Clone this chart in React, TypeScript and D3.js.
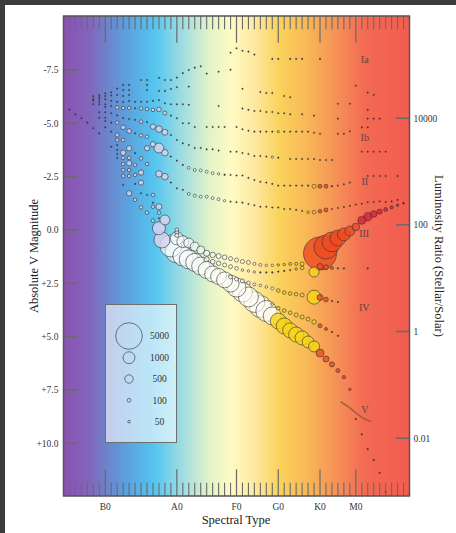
import React from 'react';
import * as d3 from 'd3';

const W = 456;
const H = 533;
const SUN_ABS_MAG = 4.76;

// spectral grid: integer index per minor tick, B0 = 0
const specMajorIdx = [0, 12, 22, 29, 36, 42];
const specMajorLabels = ['B0', 'A0', 'F0', 'G0', 'K0', 'M0'];
const specMinorRange = [-6, 50];
const magTicks = [-7.5, -5, -2.5, 0, 2.5, 5, 7.5, 10];
const lumTicks = [10000, 100, 1, 0.01];
const lumLabels = ['10000', '100', '1', '0.01'];
const legendValues = [5000, 1000, 500, 100, 50];

// [spectral index, absolute V magnitude, number of stars]
const oStars = [
  [-6, -5.64, 25], [-5, -5.42, 25], [-4, -5.24, 25], [-3, -5.03, 25], [-2, -4.77, 25], [-1, -4.53, 25],
];
const bCluster = [
  [-2, -6.27, 25], [-2, -6.14, 25], [-2, -6.06, 25], [-2, -5.89, 25],
  [-1, -6.33, 25], [-1, -6.23, 25], [-1, -6.14, 25], [-1, -6.01, 25], [-1, -5.89, 25], [-1, -5.52, 25], [-1, -5.26, 25],
  [0, -6.41, 25], [0, -6.28, 25], [0, -6.13, 25], [0, -5.89, 25], [0, -5.77, 25], [0, -5.52, 25], [0, -5.26, 25], [0, -5.11, 25], [0, -4.81, 25],
  [1, -6.45, 25], [1, -6.30, 25], [1, -6.06, 25], [1, -5.81, 25], [1, -5.47, 25], [1, -5.03, 25], [1, -4.61, 25], [1, -3.90, 25],
];
const bColumns = [
  [2, -6.63, 25], [2, -6.33, 25], [2, -6.01, 25], [2, -5.74, 90], [2, -5.37, 25], [2, -5.03, 90], [2, -4.45, 110], [2, -4.22, 90], [2, -3.98, 25], [2, -3.75, 25], [2, -3.56, 25], [2, -3.38, 25],
  [3, -6.80, 25], [3, -6.56, 25], [3, -6.28, 25], [3, -6.00, 25], [3, -5.72, 90], [3, -5.25, 25], [3, -4.81, 150], [3, -4.22, 90], [3, -3.62, 200], [3, -3.38, 90], [3, -3.09, 90], [3, -2.81, 90], [3, -2.53, 90], [3, -2.11, 25],
  [4, -6.80, 25], [4, -6.56, 25], [4, -6.33, 25], [4, -6.05, 25], [4, -5.72, 90], [4, -5.20, 25], [4, -4.64, 150], [4, -3.83, 200], [4, -3.38, 90], [4, -3.13, 200], [4, -2.81, 90], [4, -2.53, 90], [4, -1.72, 200],
  [5, -6.01, 25], [5, -5.70, 25], [5, -5.16, 25], [5, -4.53, 25], [5, -3.60, 25], [5, -3.05, 90], [5, -2.58, 90], [5, -2.16, 25], [5, -1.41, 90],
  [6, -7.03, 25], [6, -6.01, 25], [6, -5.70, 90], [6, -5.08, 90], [6, -4.43, 90], [6, -3.35, 90], [6, -2.69, 200], [6, -2.22, 180], [6, -1.72, 25], [6, -1.06, 90],
  [7, -7.03, 25], [7, -6.80, 25], [7, -6.56, 25], [7, -6.01, 25], [7, -5.67, 90], [7, -5.06, 25], [7, -4.37, 90], [7, -3.83, 200], [7, -3.09, 90], [7, -1.64, 25], [7, -0.81, 90],
  [8, -6.05, 25], [8, -5.63, 90], [8, -4.84, 200], [8, -4.02, 200], [8, -1.64, 90], [8, -1.28, 25], [8, -1.09, 90], [8, -0.44, 90],
  [9, -7.13, 25], [9, -6.52, 25], [9, -6.09, 25], [9, -5.65, 150], [9, -4.73, 300], [9, -3.84, 700], [9, -2.63, 300], [9, -1.09, 250], [9, -0.81, 90], [9, -0.55, 25],
  [10, -7.03, 25], [10, -6.52, 25], [10, -5.94, 25], [10, -5.48, 110], [10, -4.58, 250], [10, -3.62, 300], [10, -2.50, 300], [10, -0.47, 700],
  [11, -7.03, 25], [11, -6.61, 25], [11, -5.89, 25], [11, -5.36, 25], [11, -4.45, 25], [11, -3.44, 25], [11, -2.22, 25],
  [12, -7.14, 25], [12, -6.69, 25], [12, -5.89, 25], [12, -5.24, 25], [12, -4.22, 25], [12, -3.25, 25], [12, -1.95, 25], [12, 0.0, 110], [12, 0.13, 110], [12, 0.25, 110],
  [13, -7.35, 25], [13, -5.89, 25], [13, -5.00, 25], [13, -4.06, 25], [13, -3.05, 25], [13, -1.88, 25],
];
const classIa = [
  [14, -7.50, 25], [15, -7.61, 25], [16, -7.67, 25], [17, -7.33, 25], [19, -7.42, 25], [21, -7.51, 25],
  [21, -8.31, 25], [22, -8.52, 25], [23, -8.40, 25], [24, -8.36, 25], [25, -8.22, 25],
  [28, -8.02, 25], [29, -8.02, 25], [31, -8.02, 25], [32, -8.02, 25], [33, -8.02, 25], [36, -8.02, 25],
  [42, -6.76, 25], [44, -6.44, 25], [45, -6.33, 25],
];
const classIab = [
  [14, -6.72, 25], [23, -6.62, 25], [26, -6.47, 25], [27, -6.42, 25], [28, -6.42, 25], [30, -6.28, 25], [31, -6.22, 25], [39, -5.92, 25], [41, -5.92, 25], [44, -5.63, 25],
  [14, -5.87, 25], [19, -5.81, 25], [23, -5.69, 25], [24, -5.63, 25], [25, -5.58, 25], [26, -5.58, 25], [27, -5.53, 25], [28, -5.53, 25], [29, -5.47, 25], [30, -5.47, 25],
  [31, -5.42, 25], [33, -5.42, 25], [35, -5.36, 25], [39, -5.22, 25], [44, -5.22, 25], [45, -5.22, 25], [46, -5.22, 25],
];
const classIb = [
  [14, -5.00, 25], [15, -4.83, 25], [17, -4.83, 25], [18, -4.83, 25], [19, -4.83, 25], [20, -4.83, 25], [22, -4.83, 25], [23, -4.72, 25], [24, -4.65, 25],
  [25, -4.61, 25], [26, -4.61, 25], [27, -4.61, 25], [28, -4.61, 25], [29, -4.61, 40], [30, -4.61, 25], [31, -4.61, 25], [32, -4.61, 25], [33, -4.61, 25], [34, -4.61, 25],
  [35, -4.56, 25], [36, -4.51, 25], [39, -4.51, 25], [40, -4.51, 25], [41, -4.63, 25], [43, -4.81, 25], [44, -4.81, 25],
  [14, -3.98, 25], [15, -3.84, 25], [16, -3.84, 25], [17, -3.78, 25], [18, -3.78, 25], [19, -3.72, 25], [21, -3.67, 25], [22, -3.67, 25], [23, -3.61, 25],
  [24, -3.56, 25], [25, -3.47, 25], [26, -3.47, 25], [27, -3.44, 25], [28, -3.42, 40], [29, -3.39, 25], [31, -3.33, 25], [32, -3.33, 25], [33, -3.33, 25],
  [34, -3.33, 25], [35, -3.33, 25], [36, -3.28, 25], [37, -3.28, 25], [38, -3.28, 25], [43, -3.67, 25], [44, -3.67, 25], [45, -3.67, 25], [46, -3.67, 25], [47, -3.67, 25],
];
const classII = [
  [14, -2.91, 60], [15, -2.81, 60], [16, -2.79, 60], [17, -2.73, 60], [18, -2.66, 60], [19, -2.63, 45], [20, -2.59, 30], [21, -2.58, 25], [22, -2.55, 25],
  [23, -2.55, 25], [24, -2.44, 25], [25, -2.34, 25], [26, -2.26, 25], [27, -2.22, 25], [28, -2.16, 25], [29, -2.08, 25], [30, -2.08, 25], [31, -2.08, 25],
  [32, -2.08, 25], [33, -2.08, 25], [34, -2.08, 30], [35, -2.05, 110], [36, -2.05, 110], [37, -2.05, 110], [38, -2.05, 30], [39, -2.08, 25], [40, -2.14, 25],
  [41, -2.22, 25], [44, -2.53, 25], [45, -2.53, 25], [46, -2.53, 25], [47, -2.53, 25], [49, -2.53, 25],
];
const classIIlow = [
  [14, -1.69, 60], [15, -1.61, 60], [16, -1.56, 60], [17, -1.56, 60], [18, -1.49, 60], [19, -1.44, 60], [20, -1.37, 40], [21, -1.33, 25], [22, -1.30, 25],
  [23, -1.28, 25], [24, -1.22, 25], [25, -1.16, 25], [26, -1.09, 25], [27, -1.09, 25], [28, -1.05, 25], [29, -1.05, 25], [30, -0.98, 25], [31, -0.98, 25],
  [32, -0.94, 25], [33, -0.89, 25], [34, -0.83, 45], [35, -0.83, 90], [36, -0.88, 90], [37, -0.94, 110], [38, -0.98, 25], [39, -1.03, 25], [40, -1.08, 25],
  [41, -1.13, 25], [42, -1.19, 25], [43, -1.23, 25], [44, -1.30, 25], [45, -1.31, 25], [46, -1.34, 25], [47, -1.31, 25], [48, -1.34, 25], [49, -1.41, 25], [50, -1.27, 25],
];
const classIII = [
  [36, 1.10, 7700], [37, 0.80, 4100], [38, 0.56, 2800], [39, 0.38, 1800], [40, 0.21, 1200], [41, 0.05, 700], [42, -0.14, 410],
  [43, -0.45, 450], [44, -0.62, 500], [45, -0.75, 310], [46, -0.86, 180], [47, -0.96, 110], [48, -1.06, 70], [49, -1.16, 48], [50, -1.24, 28],
];
const clumpUpper = [
  [12, 0.39, 1200], [13, 0.55, 1000], [14, 0.61, 700], [15, 0.78, 570], [16, 0.94, 450], [17, 1.09, 255], [18, 1.17, 206], [19, 1.22, 177], [20, 1.28, 150],
  [21, 1.34, 113], [22, 1.41, 113], [23, 1.48, 113], [24, 1.52, 113], [25, 1.59, 64], [26, 1.64, 64], [27, 1.66, 41], [28, 1.66, 41], [29, 1.64, 41],
  [30, 1.62, 41], [31, 1.59, 64], [32, 1.59, 64], [33, 1.59, 113], [36, 1.71, 255], [37, 1.75, 177], [38, 1.78, 64], [39, 1.80, 28], [40, 1.80, 28], [44, 1.80, 28],
];
const clumpLower = [
  [17, 1.37, 177], [18, 1.49, 150], [19, 1.56, 137], [20, 1.64, 113], [21, 1.72, 113], [22, 1.80, 92], [23, 1.88, 48], [24, 1.92, 41], [25, 1.97, 41],
  [26, 1.99, 28], [27, 1.99, 28], [28, 1.99, 28], [29, 1.95, 28], [30, 1.92, 28], [31, 1.88, 28], [32, 1.83, 41], [33, 1.78, 92], [35, 1.97, 707],
];
const classIV = [
  [21, 2.20, 113], [22, 2.30, 113], [23, 2.39, 113], [24, 2.48, 92], [25, 2.55, 64], [26, 2.60, 48], [27, 2.67, 48], [28, 2.74, 64], [29, 2.84, 92],
  [30, 2.93, 92], [31, 2.98, 92], [32, 3.01, 92], [33, 3.05, 113], [35, 3.15, 1386], [36, 3.16, 255], [37, 3.26, 150], [38, 3.33, 28], [39, 3.38, 28],
];
const classIVlow = [
  [28, 3.47, 48], [29, 3.67, 92], [30, 3.78, 92], [31, 3.88, 92], [32, 3.98, 113], [33, 4.08, 113], [34, 4.18, 113], [35, 4.31, 137], [36, 4.49, 113],
  [37, 4.64, 64], [38, 4.78, 28], [39, 4.96, 28],
];
const classV = [
  [9, -0.08, 1200], [9.5, 0.47, 1800],
  [11, 0.75, 3400], [12, 1.01, 3700], [13, 1.22, 2800], [14, 1.38, 2550], [15, 1.52, 2300], [16, 1.69, 2300], [17, 1.875, 2050], [18, 2.06, 1800],
  [19, 2.18, 1800], [20, 2.34, 1800], [21, 2.51, 2050], [22, 2.70, 2550], [23, 2.91, 2800], [24, 3.14, 2800], [25, 3.375, 3100], [26, 3.59, 3400],
  [27, 3.80, 3100], [28, 4.03, 2300],
  [29, 4.27, 1800], [30, 4.50, 1800], [31, 4.71, 1600], [32, 4.90, 1600], [33, 5.06, 1400], [34, 5.25, 1000], [35, 5.46, 850],
  [36, 5.77, 450], [37, 6.05, 255], [38, 6.30, 177], [39, 6.59, 113], [40, 6.90, 82], [41, 7.47, 41],
  [42, 8.86, 28], [43, 9.58, 28], [44, 10.27, 28], [45, 10.78, 28], [46, 11.38, 28], [47, 12.28, 28],
];
const vCurve = [[39.46, 8.05], [40.7, 8.28], [42.07, 8.59], [43.48, 8.86], [44.59, 8.99]];
const classLabels = [
  { text: 'Ia', spec: 43.5, mag: -7.83 },
  { text: 'Ib', spec: 43.5, mag: -4.19 },
  { text: 'II', spec: 43.5, mag: -2.11 },
  { text: 'III', spec: 43.4, mag: 0.35 },
  { text: 'IV', spec: 43.4, mag: 3.8 },
  { text: 'V', spec: 43.5, mag: 8.6 },
];
const gradientStops = [
  [0, '#8b52b1'], [0.077, '#8266bb'], [0.134, '#6a88cf'], [0.192, '#5aa5e0'], [0.264, '#55c5ef'],
  [0.35, '#a5dfe0'], [0.423, '#e4f3c8'], [0.486, '#fffbc3'], [0.552, '#fde8a0'], [0.624, '#fbd35c'],
  [0.71, '#f8b556'], [0.799, '#f58c57'], [0.871, '#f36a53'], [1, '#f25c4f'],
];

const FONT = '"Liberation Serif", "DejaVu Serif", serif';

function starColor(s: number, n: number) {
  if (n <= 30) return '#3a3a3a';
  if (s < 11) return '#dcd4f0';
  if (s < 29) return '#ffffff';
  if (s < 36) return '#f8d41a';
  if (s < 43) return '#ef4a22';
  return '#d8203a';
}
function starOpacity(s: number, n: number) {
  if (n <= 30) return 1;
  if (s >= 11 && s < 29) return 0.6;
  return 0.8;
}

export default function App() {
  const left = 63.5, right = 409.5, top = 16, bottom = 496;
  const x = d3.scaleLinear().domain([-7, 51]).range([left, right]);
  const y = d3.scaleLinear().domain([-10.03, 12.47]).range([top, bottom]);
  const r = d3.scaleSqrt().domain([0, 5000]).range([0, 13.3]);
  const lumToMag = (L: number) => SUN_ABS_MAG - 2.5 * Math.log10(L);

  const stars = [
    ...oStars, ...bCluster, ...bColumns, ...classIa, ...classIab, ...classIb, ...classII, ...classIIlow,
    ...classIII, ...clumpUpper, ...clumpLower, ...classIV, ...classIVlow, ...classV,
  ].slice().sort((a, b) => b[2] - a[2]);

  const minor = d3.range(specMinorRange[0], specMinorRange[1] + 1).filter((i) => !specMajorIdx.includes(i));
  const line = d3.line<number[]>().x((d) => x(d[0])).y((d) => y(d[1])).curve(d3.curveCatmullRom);

  const legX = 105.5, legY = 304.5, legW = 71, legH = 138;
  const legRowsY = [336, 357.7, 379, 400.3, 421.7];

  const tickColor = '#6a6a6a';
  const fmtMag = (v: number) => (v === 0 ? '0.0' : (v > 0 ? '+' : '-') + Math.abs(v).toFixed(1));

  return (
    <svg width={W} height={H} style={{ position: 'absolute', left: 0, top: 0 }} fontFamily={FONT}>
      <defs>
        <linearGradient id="spec" x1={left} x2={right} y1={0} y2={0} gradientUnits="userSpaceOnUse">
          {gradientStops.map(([o, c], k) => (
            <stop key={k} offset={o as number} stopColor={c as string} />
          ))}
        </linearGradient>
      </defs>
      <rect x={0} y={0} width={W} height={H} fill="#3c3c3c" />
      <rect x={5} y={5} width={W - 5} height={H - 5} fill="#ffffff" />
      <rect x={left} y={top} width={right - left} height={bottom - top} fill="url(#spec)" />

      {/* legend */}
      <rect x={legX} y={legY} width={legW} height={legH} fill="#ffffff" fillOpacity={0.6} stroke="#6f6f6f" strokeWidth={1} />
      {legendValues.map((v, k) => (
        <g key={v}>
          <circle cx={129} cy={legRowsY[k]} r={r(v)} fill="none" stroke="#555" strokeWidth={0.8} />
          <text x={159.5} y={legRowsY[k]} dy="0.35em" textAnchor="middle" fontSize={9.5} fill="#333">{v}</text>
        </g>
      ))}

      {/* V line */}
      <path d={line(vCurve) || ''} fill="none" stroke="#9a5a3a" strokeWidth={1.6} strokeOpacity={0.85} />

      {/* stars */}
      {stars.map((d, k) => (
        <circle key={k} cx={x(d[0])} cy={y(d[1])} r={d[2] <= 30 ? r(d[2]) * 0.85 : r(d[2])}
          fill={starColor(d[0], d[2])} fillOpacity={starOpacity(d[0], d[2])}
          stroke="#333" strokeWidth={d[2] <= 30 ? 0.3 : 0.6} />
      ))}

      {/* class labels */}
      {classLabels.map((c) => (
        <text key={c.text} x={x(c.spec)} y={y(c.mag)} textAnchor="middle" fontSize={10} fill="#5a4646">{c.text}</text>
      ))}

      {/* spectral ticks */}
      {minor.map((i) => (
        <g key={'m' + i}>
          <line x1={x(i)} x2={x(i)} y1={top} y2={top + 13.3} stroke={tickColor} strokeWidth={1.1} />
          <line x1={x(i)} x2={x(i)} y1={bottom} y2={bottom - 13.3} stroke={tickColor} strokeWidth={1.1} />
        </g>
      ))}
      {specMajorIdx.map((i, k) => (
        <g key={'M' + i}>
          <line x1={x(i)} x2={x(i)} y1={top} y2={top + 26.7} stroke={tickColor} strokeWidth={1.2} />
          <line x1={x(i)} x2={x(i)} y1={bottom} y2={bottom - 26.7} stroke={tickColor} strokeWidth={1.2} />
          <text x={x(i)} y={509.5} textAnchor="middle" fontSize={9.5} fill="#333">{specMajorLabels[k]}</text>
        </g>
      ))}

      {/* magnitude ticks */}
      {magTicks.map((m) => (
        <g key={'y' + m}>
          <line x1={left} x2={left + 13.3} y1={y(m)} y2={y(m)} stroke={tickColor} strokeWidth={1.6} />
          <text x={58.5} y={y(m)} dy="0.35em" textAnchor="end" fontSize={9.5} fill="#333">{fmtMag(m)}</text>
        </g>
      ))}
      {/* luminosity ticks */}
      {lumTicks.map((L, k) => (
        <g key={'l' + L}>
          <line x1={right - 13.3} x2={right} y1={y(lumToMag(L))} y2={y(lumToMag(L))} stroke={tickColor} strokeWidth={1.6} />
          <text x={413.5} y={y(lumToMag(L))} dy="0.35em" textAnchor="start" fontSize={9.5} fill="#333">{lumLabels[k]}</text>
        </g>
      ))}

      <rect x={left} y={top} width={right - left} height={bottom - top} fill="none" stroke="#555" strokeWidth={1.5} />

      <text x={236} y={523.5} textAnchor="middle" fontSize={12.5} fill="#222">Spectral Type</text>
      <text transform="translate(37.5,256) rotate(-90)" textAnchor="middle" fontSize={12.5} fill="#222">Absolute V Magnitude</text>
      <text transform="translate(435,256) rotate(90)" textAnchor="middle" fontSize={12.5} fill="#222">Luminosity Ratio (Stellar/Solar)</text>
    </svg>
  );
}
